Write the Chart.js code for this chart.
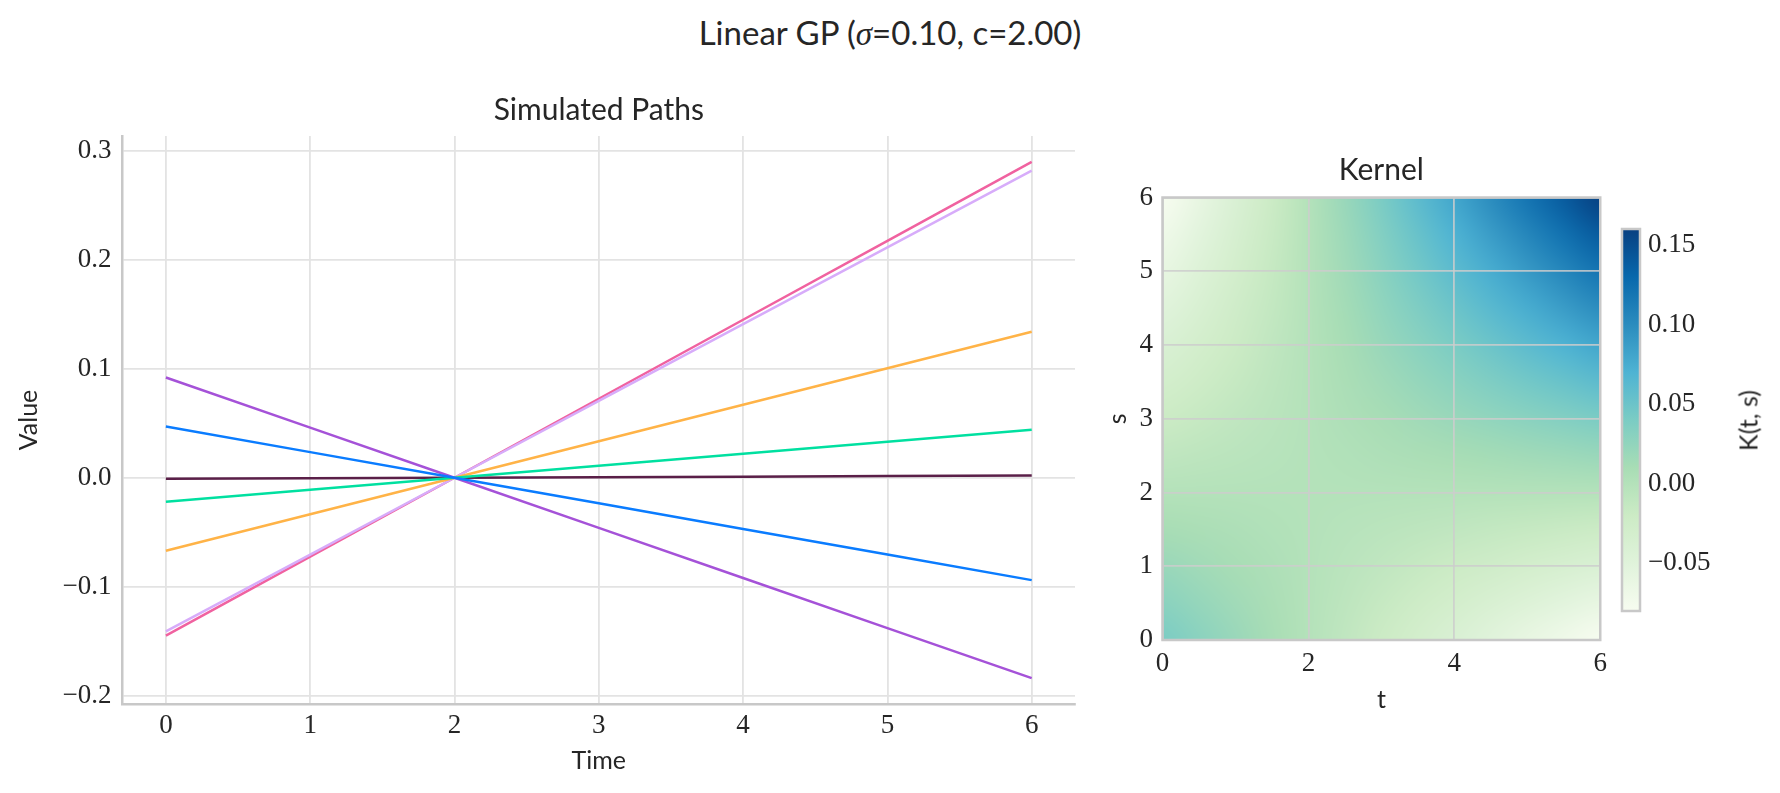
<!DOCTYPE html>
<html><head><meta charset="utf-8">
<script src="https://cdn.jsdelivr.net/npm/chart.js@4.4.1/dist/chart.umd.min.js"></script>
<style>
html,body{margin:0;padding:0;background:#fff;}
body{width:1780px;height:793px;position:relative;overflow:hidden;}
.box{position:absolute;top:0;height:793px;}
#suptitle{position:absolute;left:0;top:16px;width:1780px;text-align:center;font-family:Lato,"Open Sans",sans-serif;font-size:33px;line-height:33px;color:#262626;white-space:nowrap;}
#suptitle .m{font-family:"Liberation Serif","DejaVu Serif",serif;font-style:italic;}
#cbLabel{position:absolute;left:1648px;top:408px;width:200px;height:25px;line-height:25px;text-align:center;font-family:Lato,"Open Sans",sans-serif;font-size:25px;color:#262626;transform:rotate(-90deg);transform-origin:50% 50%;white-space:nowrap;}
</style></head>
<body>
<div id="suptitle">Linear GP (<span class="m">σ</span>=0.10, c=2.00)</div>
<div class="box" style="left:0;width:1100px"><canvas id="paths"></canvas></div>
<div class="box" style="left:1040px;width:575px"><canvas id="kernel"></canvas></div>
<div class="box" style="left:1600px;width:180px"><canvas id="cbar"></canvas></div>
<div id="cbLabel">K(t, s)</div>
<script>
// ---------------- data ----------------
const times = [0, 1, 2, 3, 4, 5, 6];
const pathPink     = [-0.145, -0.0725, 0, 0.0725, 0.145, 0.2175, 0.290];
const pathLavender = [-0.141, -0.0705, 0, 0.0705, 0.141, 0.2115, 0.282];
const pathOrange   = [-0.067, -0.0335, 0, 0.0335, 0.067, 0.1005, 0.134];
const pathGreen    = [-0.022, -0.011, 0, 0.011, 0.022, 0.033, 0.044];
const pathDark     = [-0.001, -0.0005, 0, 0.0005, 0.001, 0.0015, 0.002];
const pathBlue     = [0.047, 0.0235, 0, -0.0235, -0.047, -0.0705, -0.094];
const pathPurple   = [0.092, 0.046, 0, -0.046, -0.092, -0.138, -0.184];

const pathXTicks = [0, 1, 2, 3, 4, 5, 6];
const pathYTicks = [-0.2, -0.1, 0, 0.1, 0.2, 0.3];

const kernelT = [0, 0.5, 1, 1.5, 2, 2.5, 3, 3.5, 4, 4.5, 5, 5.5, 6];
const kernelS = [0, 0.5, 1, 1.5, 2, 2.5, 3, 3.5, 4, 4.5, 5, 5.5, 6];
// rows: s = kernelS[i], columns: t = kernelT[j]
const kernelValues = [
  [0.04, 0.03, 0.02, 0.01, 0, -0.01, -0.02, -0.03, -0.04, -0.05, -0.06, -0.07, -0.08],
  [0.03, 0.0225, 0.015, 0.0075, 0, -0.0075, -0.015, -0.0225, -0.03, -0.0375, -0.045, -0.0525, -0.06],
  [0.02, 0.015, 0.01, 0.005, 0, -0.005, -0.01, -0.015, -0.02, -0.025, -0.03, -0.035, -0.04],
  [0.01, 0.0075, 0.005, 0.0025, 0, -0.0025, -0.005, -0.0075, -0.01, -0.0125, -0.015, -0.0175, -0.02],
  [0, 0, 0, 0, 0, 0, 0, 0, 0, 0, 0, 0, 0],
  [-0.01, -0.0075, -0.005, -0.0025, 0, 0.0025, 0.005, 0.0075, 0.01, 0.0125, 0.015, 0.0175, 0.02],
  [-0.02, -0.015, -0.01, -0.005, 0, 0.005, 0.01, 0.015, 0.02, 0.025, 0.03, 0.035, 0.04],
  [-0.03, -0.0225, -0.015, -0.0075, 0, 0.0075, 0.015, 0.0225, 0.03, 0.0375, 0.045, 0.0525, 0.06],
  [-0.04, -0.03, -0.02, -0.01, 0, 0.01, 0.02, 0.03, 0.04, 0.05, 0.06, 0.07, 0.08],
  [-0.05, -0.0375, -0.025, -0.0125, 0, 0.0125, 0.025, 0.0375, 0.05, 0.0625, 0.075, 0.0875, 0.1],
  [-0.06, -0.045, -0.03, -0.015, 0, 0.015, 0.03, 0.045, 0.06, 0.075, 0.09, 0.105, 0.12],
  [-0.07, -0.0525, -0.035, -0.0175, 0, 0.0175, 0.035, 0.0525, 0.07, 0.0875, 0.105, 0.1225, 0.14],
  [-0.08, -0.06, -0.04, -0.02, 0, 0.02, 0.04, 0.06, 0.08, 0.1, 0.12, 0.14, 0.16]
];
const kernelXTicks = [0, 2, 4, 6];
const kernelYTicks = [0, 1, 2, 3, 4, 5, 6];
const cbarMin = -0.08;
const cbarMax = 0.16;
const cbarTicks = [-0.05, 0, 0.05, 0.10, 0.15];

// ---------------- style ----------------
const SANS = 'Lato, "Open Sans", sans-serif';
const SERIF = '"Liberation Serif", "DejaVu Serif", serif';
const TXT = '#262626';
const GRID = '#e3e3e3';
const SPINE = '#c8c8c8';
const GNBU = [[247,252,240],[224,243,219],[204,235,197],[168,221,181],[123,204,196],[78,179,211],[43,140,190],[8,104,172],[8,64,129]];

function cmap(v) {
  let n = (v - cbarMin) / (cbarMax - cbarMin);
  n = Math.max(0, Math.min(1, n));
  const p = n * (GNBU.length - 1);
  const i = Math.min(GNBU.length - 2, Math.floor(p));
  const f = p - i;
  const a = GNBU[i], b = GNBU[i + 1];
  return [a[0] + (b[0] - a[0]) * f, a[1] + (b[1] - a[1]) * f, a[2] + (b[2] - a[2]) * f];
}
function fmt(v, d) {
  const s = Math.abs(v).toFixed(d);
  return (v < -1e-9 ? '\u2212' : '') + s;
}
const setTicks = arr => (scale => { scale.ticks = arr.map(v => ({value: v})); });

Chart.defaults.font.family = SANS;
Chart.defaults.color = TXT;

// ---------------- paths chart ----------------
const series = [
  {values: pathBlue, color: '#0a7cff'},
  {values: pathPurple, color: '#a552d8'},
  {values: pathGreen, color: '#00e0a0'},
  {values: pathOrange, color: '#ffb347'},
  {values: pathLavender, color: '#d7acfa'},
  {values: pathPink, color: '#f062a0'},
  {values: pathDark, color: '#5a1f48'}
];

new Chart(document.getElementById('paths'), {
  type: 'line',
  data: {
    datasets: series.map(s => ({
      data: times.map((t, i) => ({x: t, y: s.values[i]})),
      borderColor: s.color, backgroundColor: s.color,
      borderWidth: 2.5, pointRadius: 0, tension: 0, fill: false
    }))
  },
  options: {
    responsive: true, maintainAspectRatio: false, animation: false,
    layout: {padding: {left: 0, right: 25, top: 0, bottom: 0}},
    plugins: {
      legend: {display: false}, tooltip: {enabled: false},
      title: {display: true, fullSize: false, text: 'Simulated Paths', color: TXT,
        font: {family: SANS, size: 30, weight: 'normal', lineHeight: 1.2},
        padding: {top: 92, bottom: 8}}
    },
    scales: {
      x: {
        type: 'linear', min: -0.3, max: 6.3,
        afterBuildTicks: setTicks(pathXTicks),
        afterFit: s => { s.height = 89; },
        ticks: {font: {family: SERIF, size: 27}, color: TXT, padding: 6, callback: v => fmt(v, 0)},
        grid: {color: GRID, lineWidth: 1.8, drawTicks: false},
        border: {display: true, color: SPINE, width: 2.5},
        title: {display: true, text: 'Time', color: TXT, font: {family: SANS, size: 25, lineHeight: 1.2}, padding: {top: 0, bottom: 17.4}}
      },
      y: {
        type: 'linear', min: -0.2077, max: 0.3137,
        afterBuildTicks: setTicks(pathYTicks),
        afterFit: s => { s.width = 122.6; },
        ticks: {font: {family: SERIF, size: 27}, color: TXT, padding: 11, callback: v => fmt(v, 1)},
        grid: {color: GRID, lineWidth: 1.8, drawTicks: false},
        border: {display: true, color: SPINE, width: 2.5},
        title: {display: true, text: 'Value', color: TXT, font: {family: SANS, size: 25, lineHeight: 1.2}, padding: {top: 14, bottom: 0}}
      }
    }
  }
});

// ---------------- kernel heatmap ----------------
const heatPlugin = {
  id: 'heat',
  beforeDraw(chart) {
    const {ctx, chartArea: ca, scales: {x, y}} = chart;
    const nt = kernelT.length, ns = kernelS.length;
    const off = document.createElement('canvas');
    off.width = nt; off.height = ns;
    const octx = off.getContext('2d');
    const img = octx.createImageData(nt, ns);
    for (let r = 0; r < ns; r++) {
      const si = ns - 1 - r;
      for (let c = 0; c < nt; c++) {
        const col = cmap(kernelValues[si][c]);
        const k = (r * nt + c) * 4;
        img.data[k] = Math.round(col[0]); img.data[k + 1] = Math.round(col[1]);
        img.data[k + 2] = Math.round(col[2]); img.data[k + 3] = 255;
      }
    }
    octx.putImageData(img, 0, 0);
    const x0 = x.getPixelForValue(kernelT[0]), x1 = x.getPixelForValue(kernelT[nt - 1]);
    const yTop = y.getPixelForValue(kernelS[ns - 1]), yBot = y.getPixelForValue(kernelS[0]);
    ctx.save();
    ctx.beginPath(); ctx.rect(ca.left, ca.top, ca.right - ca.left, ca.bottom - ca.top); ctx.clip();
    ctx.imageSmoothingEnabled = true; ctx.imageSmoothingQuality = 'high';
    ctx.drawImage(off, 0.5, 0.5, nt - 1, ns - 1, x0, yTop, x1 - x0, yBot - yTop);
    ctx.restore();
  },
  afterDraw(chart) {
    const {ctx, chartArea: ca} = chart;
    ctx.save();
    ctx.strokeStyle = SPINE; ctx.lineWidth = 2.5;
    ctx.strokeRect(ca.left, ca.top, ca.right - ca.left, ca.bottom - ca.top);
    ctx.restore();
  }
};

new Chart(document.getElementById('kernel'), {
  type: 'scatter',
  data: {datasets: []},
  plugins: [heatPlugin],
  options: {
    responsive: true, maintainAspectRatio: false, animation: false,
    layout: {padding: {left: 0, right: 9, top: 0, bottom: 0}},
    plugins: {
      legend: {display: false}, tooltip: {enabled: false},
      title: {display: true, fullSize: false, text: 'Kernel', color: TXT,
        font: {family: SANS, size: 30, weight: 'normal', lineHeight: 1.2},
        padding: {top: 152, bottom: 9.5}}
    },
    scales: {
      x: {
        type: 'linear', min: 0, max: 6,
        afterBuildTicks: setTicks(kernelXTicks),
        afterFit: s => { s.height = 153; },
        ticks: {font: {family: SERIF, size: 27}, color: TXT, padding: 8, callback: v => fmt(v, 0)},
        grid: {color: 'rgba(205,205,205,0.85)', lineWidth: 1.8, drawTicks: false},
        border: {display: false},
        title: {display: true, text: 't', color: TXT, font: {family: SANS, size: 25, lineHeight: 1.2}, padding: {top: 0, bottom: 78}}
      },
      y: {
        type: 'linear', min: 0, max: 6,
        afterBuildTicks: setTicks(kernelYTicks),
        afterFit: s => { s.width = 122.5; },
        ticks: {font: {family: SERIF, size: 27}, color: TXT, padding: 9.5, callback: v => fmt(v, 0)},
        grid: {color: 'rgba(205,205,205,0.85)', lineWidth: 1.8, drawTicks: false},
        border: {display: false},
        title: {display: true, text: 's', color: TXT, font: {family: SANS, size: 25, lineHeight: 1.2}, padding: {top: 63, bottom: 0}}
      }
    }
  }
});

// ---------------- colorbar ----------------
const cbarPlugin = {
  id: 'cbar',
  beforeDraw(chart) {
    const {ctx, chartArea: ca, scales: {y}} = chart;
    const yb = y.getPixelForValue(cbarMin), yt = y.getPixelForValue(cbarMax);
    const g = ctx.createLinearGradient(0, yb, 0, yt);
    GNBU.forEach((c, i) => g.addColorStop(i / (GNBU.length - 1), `rgb(${c[0]},${c[1]},${c[2]})`));
    ctx.save();
    ctx.fillStyle = g;
    ctx.fillRect(ca.left, yt, ca.right - ca.left, yb - yt);
    ctx.restore();
  },
  afterDraw(chart) {
    const {ctx, chartArea: ca} = chart;
    ctx.save();
    ctx.strokeStyle = SPINE; ctx.lineWidth = 2.5;
    ctx.strokeRect(ca.left, ca.top, ca.right - ca.left, ca.bottom - ca.top);
    ctx.restore();
  }
};

new Chart(document.getElementById('cbar'), {
  type: 'scatter',
  data: {datasets: []},
  plugins: [cbarPlugin],
  options: {
    responsive: true, maintainAspectRatio: false, animation: false,
    layout: {padding: {left: 22, right: 0, top: 229, bottom: 182}},
    plugins: {legend: {display: false}, tooltip: {enabled: false}},
    scales: {
      x: {type: 'linear', min: 0, max: 1, display: false},
      y: {
        type: 'linear', position: 'right', min: cbarMin, max: cbarMax,
        afterBuildTicks: setTicks(cbarTicks),
        afterFit: s => { s.width = 140; },
        ticks: {font: {family: SERIF, size: 27}, color: TXT, padding: 8, callback: v => fmt(v, 2)},
        grid: {display: false, drawTicks: false},
        border: {display: false}
      }
    }
  }
});
</script>
</body></html>
